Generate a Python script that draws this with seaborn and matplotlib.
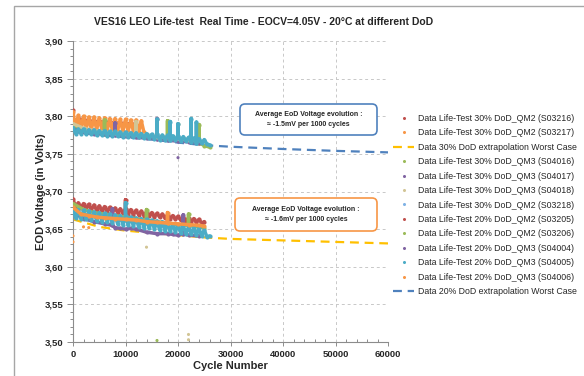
import matplotlib
matplotlib.use("Agg")
import numpy as np
import pandas as pd
import seaborn as sns
import matplotlib.pyplot as plt
from matplotlib.lines import Line2D
from matplotlib.patches import FancyBboxPatch, Rectangle
from matplotlib.ticker import MultipleLocator, FuncFormatter

sns.set_theme(style="white")
plt.rcParams["font.family"] = ["Liberation Sans", "DejaVu Sans"]

# ---------------- data ----------------
title = "VES16 LEO Life-test  Real Time - EOCV=4.05V - 20°C at different DoD"
x_label = "Cycle Number"
y_label = "EOD Voltage (in Volts)"

series_order = ["S03216", "S03217", "S04016", "S04017", "S04018", "S03218",
                "S03205", "S03206", "S04004", "S04005", "S04006"]
series_colors = ["#C0504D", "#F79646", "#9BBB59", "#8064A2", "#D2C595", "#4BACC6",
                 "#C0504D", "#9BBB59", "#8064A2", "#4BACC6", "#F79646"]

# 30% DoD group
s03216_cyc = [0, 0, 1000, 2000, 3000, 4000, 5000, 6000, 7000, 8000, 9000, 10000, 11000, 12000]
s03216_v = [3.808, 3.792, 3.797, 3.795, 3.794, 3.793, 3.793, 3.792, 3.792, 3.791, 3.791, 3.790, 3.790, 3.789]

s03217_cyc = [0, 500, 1000, 1500, 2000, 2500, 3000, 3500, 4000, 4500, 5000, 5500, 6000, 6500,
              7000, 7500, 8000, 8500, 9000, 9500, 10000, 10500, 11000, 11500, 12000, 12500, 13000, 13500]
s03217_v = [3.806, 3.784, 3.801, 3.783, 3.800, 3.783, 3.799, 3.782, 3.799, 3.782, 3.798, 3.782, 3.798, 3.781,
            3.797, 3.781, 3.797, 3.781, 3.796, 3.780, 3.796, 3.780, 3.795, 3.780, 3.795, 3.779, 3.794, 3.779]

s04016_cyc = [0, 2000, 4000, 6000, 6000, 6000, 8000, 10000, 12000, 14000, 16000, 18000, 18000, 18000,
              20000, 22000, 24000, 24000, 24000, 25000, 26000]
s04016_v = [3.786, 3.781, 3.779, 3.777, 3.795, 3.777, 3.776, 3.775, 3.774, 3.772, 3.771, 3.770, 3.794, 3.770,
            3.768, 3.767, 3.765, 3.789, 3.765, 3.761, 3.759]

s04017_cyc = [0, 2000, 4000, 6000, 8000, 8000, 8000, 10000, 12000, 14000, 16000, 16000, 16000,
              18000, 20000, 22000, 24000]
s04017_v = [3.783, 3.779, 3.777, 3.776, 3.775, 3.791, 3.775, 3.774, 3.772, 3.771, 3.770, 3.797, 3.770,
            3.768, 3.767, 3.766, 3.764]

s04018_cyc = [0, 2000, 4000, 6000, 8000, 10000, 12000, 12000, 12000, 14000, 16000, 18000, 20000, 20000,
              20000, 22000, 24000]
s04018_v = [3.790, 3.784, 3.781, 3.779, 3.778, 3.777, 3.776, 3.793, 3.776, 3.775, 3.773, 3.772, 3.771, 3.790,
            3.771, 3.769, 3.768]

s03218_cyc = [0, 500, 1000, 1500, 2000, 2500, 3000, 3500, 4000, 4500, 5000, 5500, 6000, 6500, 7000, 7500,
              8000, 8500, 9000, 9500, 10000, 10500, 11000, 11500, 12000, 12500, 13000, 13500, 14000, 14500,
              15000, 15500, 16000, 16000, 16000, 16500, 17000, 17500, 18000, 18500, 18500, 18500, 19000,
              19500, 20000, 20000, 20000, 20500, 21000, 21500, 22000, 22500, 22500, 22500, 23000, 23500,
              23500, 23500, 24000, 24500, 25000, 25500, 26000]
s03218_v = [3.785, 3.777, 3.783, 3.777, 3.783, 3.776, 3.782, 3.776, 3.782, 3.775, 3.781, 3.775, 3.781, 3.774,
            3.780, 3.774, 3.780, 3.774, 3.779, 3.773, 3.779, 3.773, 3.778, 3.772, 3.778, 3.772, 3.777, 3.771,
            3.777, 3.771, 3.776, 3.770, 3.776, 3.796, 3.776, 3.769, 3.775, 3.769, 3.775, 3.768, 3.793, 3.768,
            3.774, 3.768, 3.774, 3.790, 3.774, 3.767, 3.773, 3.767, 3.772, 3.766, 3.797, 3.766, 3.771, 3.765,
            3.792, 3.765, 3.770, 3.764, 3.769, 3.763, 3.762]

# 20% DoD group
s03205_cyc = [0, 500, 1000, 1500, 2000, 2500, 3000, 3500, 4000, 4500, 5000, 5500, 6000, 6500, 7000, 7500,
              8000, 8500, 9000, 9500, 10000, 10000, 10000, 10500, 11000, 11500, 12000, 12500, 13000, 13500,
              14000, 14500, 15000, 15500, 16000, 16500, 17000, 17500, 18000, 18500, 19000, 19500, 20000,
              20500, 21000, 21500, 22000, 22500, 23000, 23500, 24000, 24500, 25000]
s03205_v = [3.690, 3.679, 3.685, 3.678, 3.684, 3.677, 3.683, 3.676, 3.682, 3.675, 3.681, 3.674, 3.680, 3.673,
            3.679, 3.672, 3.678, 3.672, 3.677, 3.671, 3.677, 3.689, 3.677, 3.670, 3.676, 3.669, 3.675, 3.669,
            3.674, 3.668, 3.673, 3.667, 3.672, 3.666, 3.671, 3.666, 3.670, 3.665, 3.669, 3.664, 3.668, 3.663,
            3.667, 3.662, 3.666, 3.661, 3.665, 3.660, 3.664, 3.659, 3.663, 3.658, 3.660]

s03206_cyc = [0, 2000, 4000, 6000, 8000, 10000, 12000, 14000, 14000, 14000, 16000, 18000, 20000, 22000,
              22000, 22000, 24000, 25000]
s03206_v = [3.684, 3.676, 3.672, 3.670, 3.668, 3.666, 3.664, 3.662, 3.676, 3.662, 3.660, 3.658, 3.656, 3.655,
            3.670, 3.655, 3.653, 3.652]

s04004_cyc = [0, 2000, 4000, 6000, 7500, 7500, 7500, 8000, 9000, 10000, 11000, 12000, 14000, 16000, 18000,
              19000, 20000, 21000, 21000, 21000, 22000, 24000]
s04004_v = [3.672, 3.664, 3.660, 3.657, 3.655, 3.677, 3.655, 3.652, 3.651, 3.650, 3.651, 3.650, 3.646, 3.644, 3.644,
            3.643, 3.642, 3.644, 3.669, 3.644, 3.642, 3.641]

s04005_cyc = [0, 500, 1000, 1500, 2000, 2500, 3000, 3500, 4000, 4500, 5000, 5500, 6000, 6500, 7000, 7500,
              8000, 8500, 9000, 9500, 10000, 10000, 10000, 10500, 11000, 11500, 12000, 12500, 13000, 13500,
              14000, 14500, 15000, 15500, 16000, 16500, 17000, 17500, 18000, 18500, 19000, 19500, 20000,
              20500, 21000, 21500, 22000, 22500, 23000, 23500, 24000, 24500, 25000, 25500, 26000]
s04005_v = [3.677, 3.665, 3.676, 3.664, 3.675, 3.663, 3.674, 3.662, 3.673, 3.661, 3.672, 3.660, 3.671, 3.659,
            3.670, 3.658, 3.669, 3.657, 3.668, 3.656, 3.667, 3.685, 3.667, 3.655, 3.666, 3.654, 3.665, 3.653,
            3.664, 3.652, 3.663, 3.651, 3.662, 3.650, 3.661, 3.649, 3.660, 3.648, 3.658, 3.647, 3.657, 3.646,
            3.656, 3.645, 3.655, 3.644, 3.653, 3.643, 3.652, 3.642, 3.651, 3.641, 3.649, 3.640, 3.641]

s04006_cyc = [0, 1500, 3000, 4500, 6000, 8000, 10000, 12000, 14000, 16000, 18000, 18000, 18000, 20000,
              22000, 24000, 25000]
s04006_v = [3.679, 3.670, 3.668, 3.666, 3.665, 3.664, 3.663, 3.662, 3.660, 3.659, 3.658, 3.672, 3.658, 3.657,
            3.656, 3.655, 3.654]

# isolated points
outlier_cyc = [20000, 16000, 22000, 22000, 0, 0, 14000, 2000, 3000]
outlier_v = [3.745, 3.502, 3.510, 3.503, 3.641, 3.633, 3.626, 3.653, 3.652]
outlier_series = ["S04017", "S04016", "S04018", "S04018", "S04006", "S04006", "S04018", "S04006", "S04006"]

# worst case extrapolations
ext_cyc = [0, 5000, 10000, 15000, 20000, 25000, 30000, 40000, 50000, 60000]
ext_upper_v = [3.779, 3.775, 3.772, 3.769, 3.765, 3.7615, 3.7595, 3.7565, 3.754, 3.752]
ext_lower_v = [3.663, 3.653, 3.648, 3.645, 3.642, 3.639, 3.637, 3.635, 3.633, 3.631]

legend_labels = [
    "Data Life-Test 30% DoD_QM2 (S03216)",
    "Data Life-Test 30% DoD_QM2 (S03217)",
    "Data 30% DoD extrapolation Worst Case",
    "Data Life-Test 30% DoD_QM3 (S04016)",
    "Data Life-Test 30% DoD_QM3 (S04017)",
    "Data Life-Test 30% DoD_QM3 (S04018)",
    "Data Life-Test 30% DoD_QM2 (S03218)",
    "Data Life-Test 20% DoD_QM2 (S03205)",
    "Data Life-Test 20% DoD_QM2 (S03206)",
    "Data Life-Test 20% DoD_QM3 (S04004)",
    "Data Life-Test 20% DoD_QM3 (S04005)",
    "Data Life-Test 20% DoD_QM3 (S04006)",
    "Data 20% DoD extrapolation Worst Case",
]
legend_colors = ["#C0504D", "#F79646", "#FFC000", "#9BBB59", "#8064A2", "#D2C595", "#7FB2E5",
                 "#C0504D", "#9BBB59", "#8064A2", "#4BACC6", "#F79646", "#4F81BD"]
legend_is_line = [False, False, True, False, False, False, False,
                  False, False, False, False, False, True]

box1_text = "Average EoD Voltage evolution :\n≈ -1.5mV per 1000 cycles"
box2_text = "Average EoD Voltage evolution :\n≈ -1.6mV per 1000 cycles"

# ---------------- build table ----------------
cyc_lists = [s03216_cyc, s03217_cyc, s04016_cyc, s04017_cyc, s04018_cyc, s03218_cyc,
             s03205_cyc, s03206_cyc, s04004_cyc, s04005_cyc, s04006_cyc]
v_lists = [s03216_v, s03217_v, s04016_v, s04017_v, s04018_v, s03218_v,
           s03205_v, s03206_v, s04004_v, s04005_v, s04006_v]
frames = []
for name, c, v in zip(series_order, cyc_lists, v_lists):
    assert len(c) == len(v), name
    frames.append(pd.DataFrame({"cycle": c, "voltage": v, "series": name}))
df = pd.concat(frames, ignore_index=True)
palette = dict(zip(series_order, series_colors))

# ---------------- figure ----------------
W, H = 584, 376
fig = plt.figure(figsize=(W / 100, H / 100), dpi=100)
ax = fig.add_axes([73 / W, (H - 342) / H, 315 / W, 301 / H])

# outer frame
fig.patches.append(Rectangle((13.5 / W, -0.05), 1.2, 1.05 - 5.5 / H, transform=fig.transFigure,
                             fill=False, ec="#A6A6A6", lw=1.0))

sns.lineplot(x=ext_cyc, y=ext_upper_v, ax=ax, color="#4F81BD", lw=1.6,
             linestyle=(0, (4, 2.6)), zorder=2)
sns.lineplot(x=ext_cyc, y=ext_lower_v, ax=ax, color="#FFC000", lw=1.6,
             linestyle=(0, (4, 2.6)), zorder=2)

sns.lineplot(data=df, x="cycle", y="voltage", hue="series", hue_order=series_order,
             palette=palette, estimator=None, sort=False, lw=2.5, marker="o",
             markersize=3.0, markeredgewidth=0, legend=False, ax=ax, zorder=3,
             solid_joinstyle="round")
sns.scatterplot(x=outlier_cyc, y=outlier_v, hue=outlier_series, palette=palette,
                s=5, linewidth=0, legend=False, ax=ax, zorder=3)

ax.set_xlim(0, 60000)
ax.set_ylim(3.50, 3.90)
ax.xaxis.set_major_locator(MultipleLocator(10000))
ax.xaxis.set_minor_locator(MultipleLocator(2000))
ax.yaxis.set_major_locator(MultipleLocator(0.05))
ax.yaxis.set_minor_locator(MultipleLocator(0.01))
ax.yaxis.set_major_formatter(FuncFormatter(lambda v, p: f"{v:.2f}".replace(".", ",")))
ax.xaxis.set_major_formatter(FuncFormatter(lambda v, p: f"{int(round(v))}"))

ax.grid(True, which="major", linestyle=(0, (3, 3)), color="#C8C8C8", lw=0.7)
ax.set_axisbelow(True)
for s in ["top", "right"]:
    ax.spines[s].set_visible(False)
for s in ["left", "bottom"]:
    ax.spines[s].set_color("#8C8C8C")
    ax.spines[s].set_linewidth(0.8)

ax.tick_params(axis="both", which="both", bottom=True, left=True, colors="#8C8C8C",
               labelcolor="#262626", labelsize=6.8, width=0.7)
ax.tick_params(axis="y", which="major", direction="out", length=4, pad=3)
ax.tick_params(axis="y", which="minor", direction="out", length=2)
ax.tick_params(axis="x", which="major", direction="out", length=3, pad=2.5)
ax.tick_params(axis="x", which="minor", direction="in", length=2)
for lab in ax.get_xticklabels() + ax.get_yticklabels():
    lab.set_fontweight("bold")

ax.set_xlabel(x_label, fontsize=8, fontweight="bold", color="#262626")
ax.set_ylabel(y_label, fontsize=8, fontweight="bold", color="#262626")
ax.xaxis.set_label_coords(0.5, (342 - 361) / 301)
ax.yaxis.set_label_coords((46 - 73) / 315, 0.5)

fig.text(264 / W, 1 - 22 / H, title, ha="center", va="center", fontsize=7.5,
         fontweight="bold", color="#262626")

# legend
handles = []
for col, is_line in zip(legend_colors, legend_is_line):
    if is_line:
        handles.append(Line2D([], [], color=col, lw=1.6, linestyle=(0, (4, 2.6))))
    else:
        handles.append(Line2D([], [], color=col, marker="o", markersize=2.2,
                              markeredgewidth=0, linestyle="none"))
fig.legend(handles, legend_labels, loc="upper left", bbox_to_anchor=(393 / W, 1 - 114 / H),
           frameon=False, fontsize=6.3, handlelength=2.4, handletextpad=0.4,
           labelspacing=0.62, borderpad=0, borderaxespad=0, labelcolor="#262626")

# annotation boxes (in inches from bottom-left)
box1 = FancyBboxPatch((2.40, (H - 135) / 100), 1.37, 0.31,
                      boxstyle="round,pad=0,rounding_size=0.05", transform=fig.dpi_scale_trans,
                      fc="white", ec="#4F81BD", lw=1.2, zorder=5)
box2 = FancyBboxPatch((2.35, (H - 231) / 100), 1.42, 0.33,
                      boxstyle="round,pad=0,rounding_size=0.05", transform=fig.dpi_scale_trans,
                      fc="white", ec="#F79646", lw=1.2, zorder=5)
fig.patches.extend([box1, box2])
fig.text(308.5 / W, 1 - 120 / H, box1_text, ha="center", va="center", fontsize=5,
         fontweight="bold", color="#262626", linespacing=1.6, zorder=6)
fig.text(306 / W, 1 - 214.5 / H, box2_text, ha="center", va="center", fontsize=5,
         fontweight="bold", color="#262626", linespacing=1.6, zorder=6)

fig.savefig("out.png", dpi=100)
